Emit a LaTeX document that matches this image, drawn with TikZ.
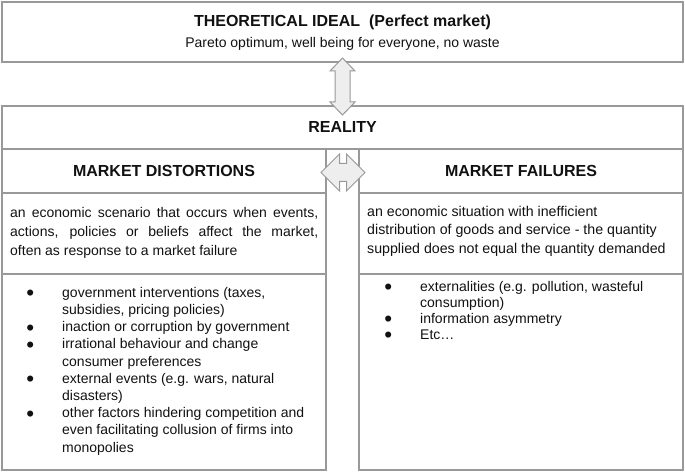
\documentclass[tikz,border=0pt]{standalone}
\usepackage{fontspec}
\setmainfont{Liberation Sans}
\usetikzlibrary{calc}

\definecolor{linegray}{HTML}{999999}
\definecolor{arrowfill}{HTML}{EEEEEE}
\definecolor{ink}{HTML}{111111}

% bullet hanging 32pt to the left of the item text
\newcommand{\itm}{\llap{\makebox[0pt][c]{\smash{\raisebox{-3.4pt}{\scalebox{1.6}{\textbullet}}}}\hspace{32pt}}}

\tikzset{
  frame/.style={draw=linegray, line width=1.3pt, inner sep=0pt, outer sep=0pt, anchor=north west},
  blockarrow/.style={draw=linegray, fill=arrowfill, line width=1pt, line join=miter},
  headtext/.style={font=\fontsize{16}{19}\selectfont\bfseries, text=ink, inner sep=0pt, anchor=base},
  subtext/.style={font=\fontsize{14}{17}\selectfont, text=ink, inner sep=0pt, anchor=base},
  bodytext/.style={text=ink, inner sep=0pt, anchor=base west},
}

\begin{document}
\begin{tikzpicture}[x=1pt, y=-1pt]
  \useasboundingbox (0,0) rectangle (685,473);

  % top: the ideal
  \node[frame, minimum width=681pt, minimum height=60pt] (ideal) at (2,2) {};
  \node[headtext] (idealtitle) at (342.5,26.5) {THEORETICAL IDEAL\ \ (Perfect market)};
  \node[subtext] (idealsub) at (342.5,48) {Pareto optimum, well being for everyone, no waste};

  % reality band
  \node[frame, minimum width=681pt, minimum height=43pt] (reality) at (2,106) {};
  \node[headtext] (realitytitle) at (342.5,132.5) {REALITY};

  % left column: market distortions
  \node[frame, minimum width=324pt, minimum height=44pt] (disthead) at (2,149) {};
  \node[frame, minimum width=324pt, minimum height=81pt] (distdesc) at (2,193) {};
  \node[frame, minimum width=324pt, minimum height=196pt] (distlist) at (2,274) {};
  \node[headtext] (distheadtext) at (164,176.5) {MARKET DISTORTIONS};
  \node[bodytext] (distdesctext) at (10,217.3) {%
    \begin{minipage}[t]{308pt}\fontsize{14}{19.2}\selectfont\parindent=0pt
      an economic scenario that occurs when events,\linebreak
      actions, policies or beliefs affect the market,\linebreak
      often as response to a market failure
    \end{minipage}};
  \node[bodytext] (distlisttext) at (62,297.3) {%
    \fontsize{14}{17.2}\selectfont
    \begin{tabular}[t]{@{}l@{}}
      \itm government interventions (taxes,\\
      subsidies, pricing policies)\\
      \itm inaction or corruption by government\\
      \itm irrational behaviour and change\\
      consumer preferences\\
      \itm external events (e.g. wars, natural\\
      disasters)\\
      \itm other factors hindering competition and\\
      even facilitating collusion of firms into\\
      monopolies
    \end{tabular}};

  % right column: market failures
  \node[frame, minimum width=324pt, minimum height=44pt] (failhead) at (359,149) {};
  \node[frame, minimum width=324pt, minimum height=81pt] (faildesc) at (359,193) {};
  \node[frame, minimum width=324pt, minimum height=196pt] (faillist) at (359,274) {};
  \node[headtext] (failheadtext) at (521,176.5) {MARKET FAILURES};
  \node[bodytext] (faildesctext) at (367,216) {%
    \begin{minipage}[t]{312pt}\fontsize{14.2}{18.6}\selectfont\parindent=0pt\raggedright
      an economic situation with inefficient\\
      distribution of goods and service - the quantity\\
      supplied does not equal the quantity demanded
    \end{minipage}};
  \node[bodytext] (faillisttext) at (420,291) {%
    \fontsize{14}{16.1}\selectfont
    \begin{tabular}[t]{@{}l@{}}
      \itm externalities (e.g. pollution, wasteful\\
      consumption)\\
      \itm information asymmetry\\
      \itm Etc\dots
    \end{tabular}};

  % vertical block arrow: ideal <-> reality
  \draw[blockarrow, shift={($(ideal.south)!0.5!(reality.north)$)}]
    (0,-26) -- (12.5,-13) -- (7.5,-13) -- (7.5,18) -- (12.5,18) -- (0,31)
    -- (-12.5,18) -- (-7.5,18) -- (-7.5,-13) -- (-12.5,-13) -- cycle;

  % horizontal block arrow: distortions <-> failures
  \draw[blockarrow, shift={($(disthead.east)!0.5!(failhead.west)$)}]
    (-21.5,1.5) -- (-3,-17) -- (-3,-7.5) -- (4,-7.5) -- (4,-17) -- (22.5,1.5)
    -- (4,20) -- (4,10.5) -- (-3,10.5) -- (-3,20) -- cycle;
\end{tikzpicture}
\end{document}
